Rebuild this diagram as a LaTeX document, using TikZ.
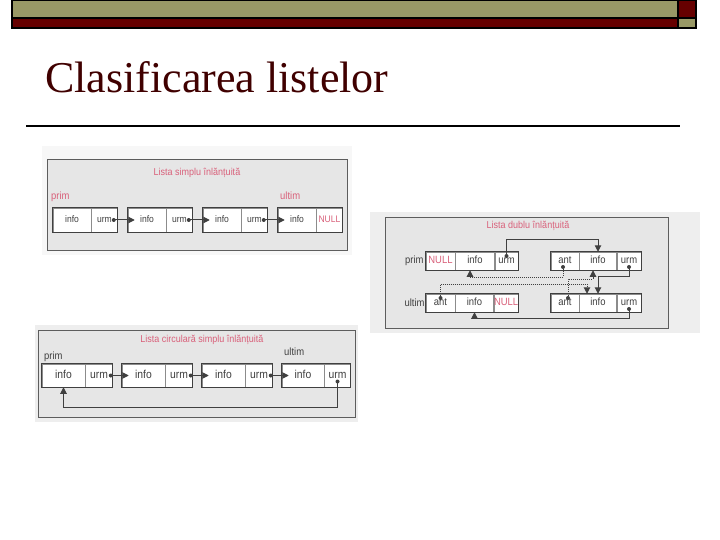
\documentclass[tikz,border=0pt]{standalone}
\usepackage{fontspec}
\usetikzlibrary{arrows.meta, positioning}
\newfontfamily\titlefont{Liberation Serif}
\newfontfamily\scanfont[FakeStretch=0.9]{Liberation Sans}
\definecolor{barkhaki}{HTML}{999966}
\definecolor{barred}{HTML}{660000}
\definecolor{titlered}{HTML}{400000}
\definecolor{scanbg}{HTML}{E6E6E6}
\definecolor{scanout}{HTML}{EEEEEE}
\definecolor{scanline}{HTML}{404040}
\definecolor{scanpink}{HTML}{D9607A}
\tikzset{
  panel/.style={draw=scanline!85, line width=1pt, fill=scanbg},
  cell/.style={draw=scanline!60, line width=0.5pt, fill=white, inner sep=0pt, text=scanline, text height=1.6ex, text depth=0.3ex},
  cellA/.style={cell, minimum height=24pt, font=\scanfont\fontsize{9.5}{10}\selectfont},
  cellB/.style={cell, minimum height=18pt, font=\scanfont\fontsize{10.5}{11}\selectfont},
  cellC/.style={cell, minimum height=23pt, font=\scanfont\fontsize{11.5}{12}\selectfont},
  frame/.style={draw=scanline, line width=1.2pt},
  link/.style={-{Triangle[length=6.5pt,width=6.5pt]}, line width=1pt, draw=scanline},
  dotlink/.style={link, densely dotted},
  dot/.style={circle, fill=scanline, inner sep=0pt, minimum size=4pt},
  heading/.style={text=scanpink, font=\scanfont\fontsize{10}{12}\selectfont},
  lbl/.style={text=scanline, inner sep=1pt, font=\scanfont\fontsize{10.5}{11}\selectfont}
}

\begin{document}
\begin{tikzpicture}[x=1pt, y=-1pt]
\useasboundingbox (0,0) rectangle (720,540);
% bar on top
\fill[black] (11,0) rectangle (697,29);
\fill[barkhaki] (13,1) rectangle (677,17);
\fill[barred] (13,19) rectangle (677,27);
\fill[barred] (679,1) rectangle (695,17);
\fill[barkhaki] (679,19) rectangle (695,27);
\node[anchor=base west, inner sep=0pt, text=titlered, font=\titlefont\fontsize{44}{48}\selectfont] (title) at (45,93) {Clasificarea listelor};
\coordinate (r1) at (26,126);
\coordinate (r2) at (680,126);
\draw[line width=2pt] (r1) -- (r2);

% lista simplu
\fill[scanout!50] (42,146) rectangle (352,255);
\draw[panel] (47,160) rectangle (347,250);
\node[heading] (h1) at (197,173) {Lista simplu înlănțuită};
\node[lbl, text=scanpink, anchor=west] (p1) at (50,197) {prim};
\node[lbl, text=scanpink, anchor=west] (u1) at (279,196) {ultim};
\node[cellA, minimum width=38pt] (s1i) at (72,220) {info};
\node[cellA, minimum width=26pt, right=0pt of s1i] (s1u) {urm};
\node[cellA, minimum width=38pt] (s2i) at (147,220) {info};
\node[cellA, minimum width=26pt, right=0pt of s2i] (s2u) {urm};
\node[cellA, minimum width=38pt] (s3i) at (222,220) {info};
\node[cellA, minimum width=26pt, right=0pt of s3i] (s3u) {urm};
\node[cellA, minimum width=38pt] (s4i) at (297,220) {info};
\node[cellA, minimum width=26pt, right=0pt of s4i, text=scanpink] (s4n) {NULL};
\draw[frame] (s1i.north west) rectangle (s1u.south east);
\draw[frame] (s2i.north west) rectangle (s2u.south east);
\draw[frame] (s3i.north west) rectangle (s3u.south east);
\draw[frame] (s4i.north west) rectangle (s4n.south east);
\node[dot] (s1d) at ([xshift=-4pt]s1u.east) {};
\node[dot] (s2d) at ([xshift=-4pt]s2u.east) {};
\node[dot] (s3d) at ([xshift=-4pt]s3u.east) {};
\draw[link, shorten >=-7pt] (s1d.center) -- (s2i.west);
\draw[link, shorten >=-7pt] (s2d.center) -- (s3i.west);
\draw[link, shorten >=-7pt] (s3d.center) -- (s4i.west);

% lista dublu
\fill[scanout] (370,212) rectangle (700,333);
\draw[panel] (385,218) rectangle (668,328);
\node[heading] (h2) at (528,226) {Lista dublu înlănțuită};
\node[cellB, minimum width=29pt, text=scanpink] (a1) at (440.5,261) {NULL};
\node[cellB, minimum width=39pt, right=0pt of a1] (a2) {info};
\node[cellB, minimum width=23pt, right=0pt of a2] (a3) {urm};
\node[cellB, minimum width=28pt] (b1) at (565,261) {ant};
\node[cellB, minimum width=37pt, right=0pt of b1] (b2) {info};
\node[cellB, minimum width=24pt, right=0pt of b2] (b3) {urm};
\node[cellB, minimum width=29pt] (c1) at (440.5,303) {ant};
\node[cellB, minimum width=38pt, right=0pt of c1] (c2) {info};
\node[cellB, minimum width=24pt, right=0pt of c2, text=scanpink] (c3) {NULL};
\node[cellB, minimum width=28pt] (d1) at (565,303) {ant};
\node[cellB, minimum width=37pt, right=0pt of d1] (d2) {info};
\node[cellB, minimum width=24pt, right=0pt of d2] (d3) {urm};
\draw[frame, line width=1pt] (a1.north west) rectangle (a3.south east);
\draw[frame, line width=1pt] (b1.north west) rectangle (b3.south east);
\draw[frame, line width=1pt] (c1.north west) rectangle (c3.south east);
\draw[frame, line width=1pt] (d1.north west) rectangle (d3.south east);
\node[lbl, left=1pt of a1] (p2) {prim};
\node[lbl, left=0pt of c1] (u2) {ultim};
\node[dot] (a3d) at ([yshift=5pt]a3.center) {};
\node[dot] (b1d) at ([xshift=-2pt,yshift=-6pt]b1.center) {};
\node[dot] (b3d) at ([yshift=-6pt]b3.center) {};
\node[dot] (c1d) at ([yshift=5pt]c1.center) {};
\node[dot] (d1d) at ([xshift=3pt,yshift=5pt]d1.center) {};
\node[dot] (d3d) at ([yshift=-6pt]d3.center) {};
\draw[link] (a3d.center) -- ++(0,-17) -| (b2.north);
\draw[dotlink] (b1d.center) -- ++(0,10) -| ([xshift=-5pt]a2.south);
\draw[dotlink] (d1d.center) -- ++(0,-19) -| ([xshift=-5pt]b2.south);
\draw[dotlink] (c1d.center) -- ++(0,-14) -| ([xshift=-11pt]d2.north);
\draw[link] (b3d.center) -- ++(0,9) -| (d2.north);
\draw[link] (d3d.center) -- ++(0,9) -| (c2.south);

% lista circulara
\fill[scanout] (35,325) rectangle (358,422);
\draw[panel] (38,330) rectangle (355,417);
\node[heading] (h3) at (202,340) {Lista circulară simplu înlănțuită};
\node[lbl, anchor=west] (p3) at (43,357) {prim};
\node[lbl, anchor=west] (u3) at (283,352) {ultim};
\node[cellC, minimum width=43pt] (c1i) at (63.5,375.5) {info};
\node[cellC, minimum width=27pt, right=0pt of c1i] (c1u) {urm};
\node[cellC, minimum width=43pt] (c2i) at (143.5,375.5) {info};
\node[cellC, minimum width=27pt, right=0pt of c2i] (c2u) {urm};
\node[cellC, minimum width=43pt] (c3i) at (223.5,375.5) {info};
\node[cellC, minimum width=27pt, right=0pt of c3i] (c3u) {urm};
\node[cellC, minimum width=42pt] (c4i) at (303,375.5) {info};
\node[cellC, minimum width=26pt, right=0pt of c4i] (c4u) {urm};
\draw[frame] (c1i.north west) rectangle (c1u.south east);
\draw[frame] (c2i.north west) rectangle (c2u.south east);
\draw[frame] (c3i.north west) rectangle (c3u.south east);
\draw[frame] (c4i.north west) rectangle (c4u.south east);
\node[dot] (c1d) at ([xshift=-2pt]c1u.east) {};
\node[dot] (c2d) at ([xshift=-2pt]c2u.east) {};
\node[dot] (c3d) at ([xshift=-2pt]c3u.east) {};
\node[dot] (c4d) at ([yshift=-6pt]c4u.center) {};
\draw[link, shorten >=-7pt] (c1d.center) -- (c2i.west);
\draw[link, shorten >=-7pt] (c2d.center) -- (c3i.west);
\draw[link, shorten >=-7pt] (c3d.center) -- (c4i.west);
\draw[link] (c4d.center) -- ++(0,26) -| (c1i.south);
\end{tikzpicture}
\end{document}
